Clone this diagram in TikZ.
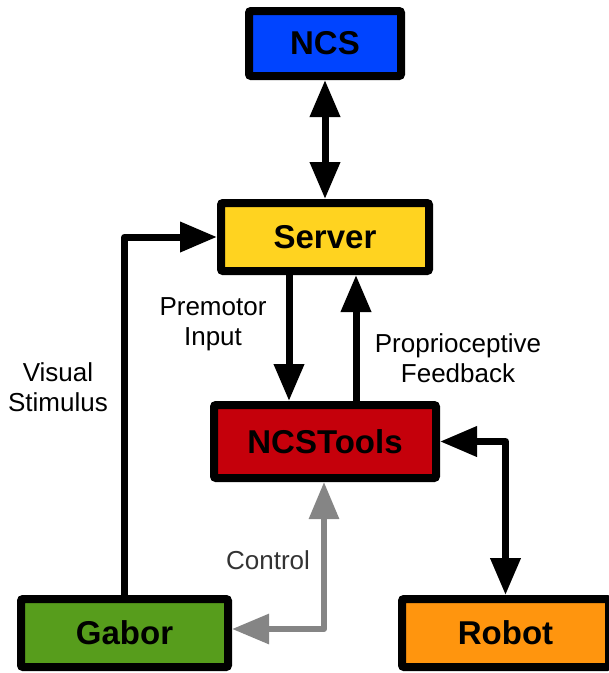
\documentclass[tikz,border=0pt]{standalone}
\usepackage{fontspec}
\setmainfont{Liberation Sans}
\usetikzlibrary{arrows.meta}

\definecolor{ncsblue}{HTML}{0044FF}
\definecolor{serveryellow}{HTML}{FFD320}
\definecolor{toolsred}{HTML}{C5000B}
\definecolor{gaborgreen}{HTML}{579D1C}
\definecolor{robotorange}{HTML}{FF950E}
\definecolor{ctrlgrey}{HTML}{858585}
\definecolor{ctrltext}{HTML}{333333}

\tikzset{
  box/.style={draw=black, line width=8pt, rounded corners=2pt,
    font=\fontsize{33}{38}\selectfont\bfseries, inner sep=0pt},
  link/.style={line width=7pt, line join=round,
    -{Triangle[length=37pt,width=29pt]}},
  biglink/.style={link, {Triangle[length=37pt,width=29pt]}-{Triangle[length=37pt,width=29pt]}},
  greylink/.style={biglink, draw=ctrlgrey, color=ctrlgrey, line width=6pt},
  lbl/.style={font=\fontsize{26}{30}\selectfont, align=center, inner sep=0pt},
}

\begin{document}
\begin{tikzpicture}[x=1pt, y=-1pt]
  \useasboundingbox (0,0) rectangle (609,673);

  % blocks
  \node[box, fill=ncsblue, minimum width=152pt, minimum height=65pt] (ncs) at (325,43.5) {NCS};
  \node[box, fill=serveryellow, minimum width=208pt, minimum height=68pt] (server) at (325,237) {Server};
  \node[box, fill=toolsred, minimum width=222pt, minimum height=73pt] (tools) at (325,441.5) {NCSTools};
  \node[box, fill=gaborgreen, minimum width=207pt, minimum height=68pt] (gabor) at (124.5,633) {Gabor};
  \node[box, fill=robotorange, minimum width=207pt, minimum height=68pt] (robot) at (505.5,633) {Robot};

  % connectors
  \draw[biglink] (ncs.south) -- (server.north);
  \draw[link] ([xshift=-36pt]server.south) -- ([xshift=-36pt]tools.north);
  \draw[link] ([xshift=31pt]tools.north) -- ([xshift=31pt]server.south);
  \draw[link] (gabor.north) |- (server.west);
  \draw[biglink] (tools.east) -| (robot.north);
  \coordinate (ctrlbend) at (324,629);
  \draw[greylink] ([xshift=-1pt]tools.south) -- (ctrlbend) -- (gabor.east |- ctrlbend);

  % labels
  \node[lbl] (lpre) at (213,324) {Premotor\\Input};
  \node[lbl] (lpro) at (458,358) {Proprioceptive\\Feedback};
  \node[lbl] (lvis) at (58,387) {Visual\\Stimulus};
  \node[lbl, text=ctrltext] (lctl) at (268,560) {Control};
\end{tikzpicture}
\end{document}
